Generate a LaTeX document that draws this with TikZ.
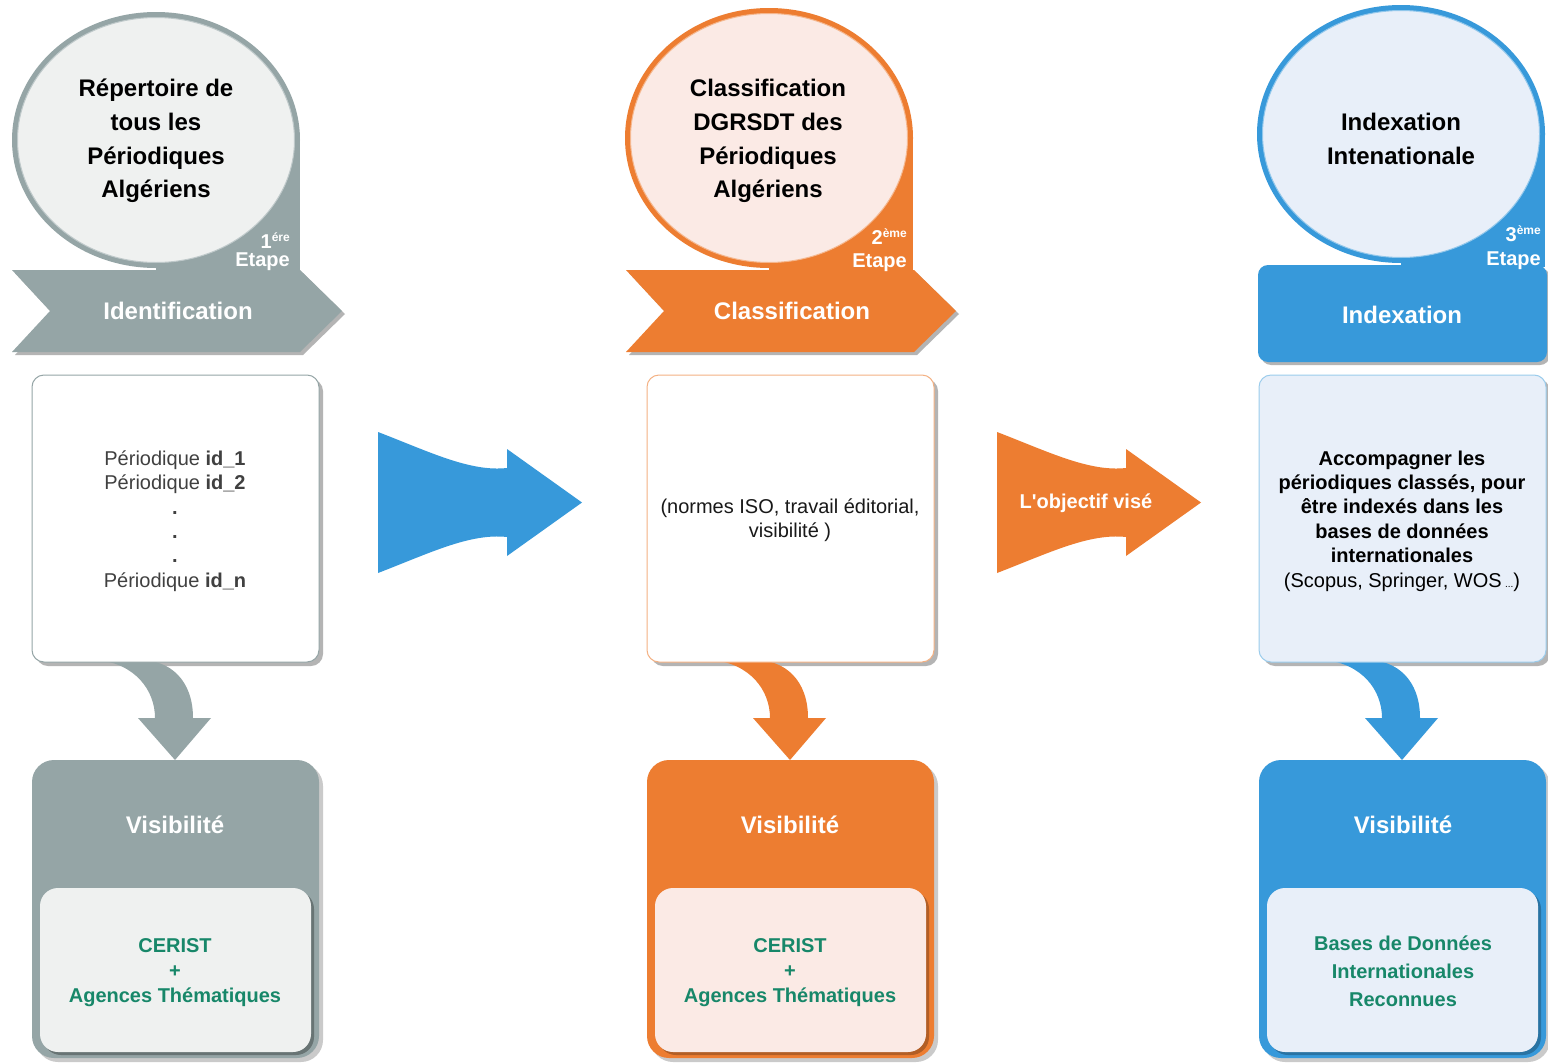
\documentclass[tikz,border=0pt]{standalone}
\usepackage{fontspec}
\setmainfont{Liberation Sans}
\definecolor{cgray}{HTML}{95A5A6}
\definecolor{cgrayl}{HTML}{EFF1F0}
\definecolor{corange}{HTML}{ED7D31}
\definecolor{corangel}{HTML}{FBEAE5}
\definecolor{cblue}{HTML}{3799DA}
\definecolor{cbluel}{HTML}{E8EFF9}
\definecolor{cgreen}{HTML}{178769}
\definecolor{shad}{HTML}{B4B4B4}
\definecolor{dtext}{HTML}{404040}
\newcommand{\stsup}[1]{\raisebox{7pt}{\fontsize{12}{12}\selectfont #1}}
\newcommand{\stagebody}[5]{%
  \fill[shad, rounded corners=12pt] (36,379) rectangle (323,666);
  \fill[#1] (98,660) .. controls (135,664) and (155,690) .. (155,718) -- (138,718) -- (175,760) -- (211,718) -- (193,718) .. controls (193,680) and (170,660) .. (140,660) -- cycle;
  \filldraw[fill=#3, draw=#4, line width=1pt, rounded corners=12pt] (32,375) rectangle (319,662);
  \fill[shad!70!white, rounded corners=22pt] (36,764) rectangle (323,1062);
  \fill[#1, rounded corners=22pt] (32,760) rectangle (319,1058);
  \fill[#5, rounded corners=18pt] (43,891) rectangle (314,1055);
  \fill[#2, rounded corners=18pt] (40,888) rectangle (311,1052);
}
\tikzset{
  circtxt/.style={font=\fontsize{24}{33.7}\selectfont\bfseries, align=center, text=black, inner sep=0pt},
  bandtxt/.style={font=\fontsize{24}{28}\selectfont\bfseries, text=white, inner sep=0pt},
  stagetxt/.style={font=\fontsize{20}{24}\selectfont\bfseries, text=white, anchor=base east, inner sep=0pt},
  bodytxt/.style={font=\fontsize{20}{24.4}\selectfont, align=center, inner sep=0pt},
  greentxt/.style={font=\fontsize{20}{25}\selectfont\bfseries, text=cgreen, align=center, inner sep=0pt},
}
\begin{document}
\begin{tikzpicture}[x=1pt,y=-1pt]
\useasboundingbox (0,0) rectangle (1548,1063);
\fill[white] (0,0) rectangle (1548,1063);

% ---------- column 1 head
\fill[cgray] (156,140) ellipse [x radius=144pt, y radius=128pt];
\fill[cgray] (156,140) rectangle (300,270);
\filldraw[fill=cgrayl, draw=cgray!60!white, line width=1pt] (156,140) ellipse [x radius=138.5pt, y radius=122.5pt];
\fill[shad] (15,273) -- (303,273) -- (345,314) -- (303,355) -- (15,355) -- (53,314) -- cycle;
\fill[cgray] (12,270) -- (300,270) -- (342,311) -- (300,352) -- (12,352) -- (50,311) -- cycle;

% ---------- column 2 head
\fill[corange] (769,138) ellipse [x radius=144pt, y radius=130pt];
\fill[corange] (769,138) rectangle (913,270);
\filldraw[fill=corangel, draw=corange!55!white, line width=1pt] (769,138) ellipse [x radius=138.5pt, y radius=124.5pt];
\fill[shad] (629,273) -- (917,273) -- (959,314) -- (917,355) -- (629,355) -- (667,314) -- cycle;
\fill[corange] (626,270) -- (914,270) -- (956,311) -- (914,352) -- (626,352) -- (664,311) -- cycle;

% ---------- column 3 head
\fill[cblue] (1401,134) ellipse [x radius=144pt, y radius=129pt];
\fill[cblue] (1401,134) rectangle (1545,267);
\filldraw[fill=cbluel, draw=cblue!55!white, line width=1pt] (1401,134) ellipse [x radius=138.5pt, y radius=123.5pt];
\fill[shad, rounded corners=10pt] (1261,268) rectangle (1550,365);
\fill[cblue, rounded corners=10pt] (1258,265) rectangle (1547,362);

% ---------- bodies
\stagebody{cgray}{cgrayl}{white}{cgray}{cgray!70!black}
\begin{scope}[shift={(615,0)}]
\stagebody{corange}{corangel}{white}{corange!60!white}{corange!75!black}
\end{scope}
\begin{scope}[shift={(1227,0)}]
\stagebody{cblue}{cbluel}{cbluel}{cblue!50!white}{cblue!75!black}
\end{scope}

% ---------- big arrows
\fill[cblue] (378,432) .. controls (430,452) and (470,472) .. (507,468) -- (507,449) -- (582,502.5) -- (507,556) -- (507,537) .. controls (470,533) and (430,553) .. (378,573) -- cycle;
\begin{scope}[shift={(619,0)}]
\fill[corange] (378,432) .. controls (430,452) and (470,472) .. (507,468) -- (507,449) -- (582,502.5) -- (507,556) -- (507,537) .. controls (470,533) and (430,553) .. (378,573) -- cycle;
\end{scope}
\node[bandtxt, font=\fontsize{20}{24}\selectfont\bfseries] (obj) at (1086,503) {L\textquotesingle objectif visé};

% ---------- texts
\node[circtxt] (h1) at (156,141) {Répertoire de\\tous les\\Périodiques\\Algériens};
\node[circtxt] (h2) at (768,141) {Classification\\DGRSDT des\\Périodiques\\Algériens};
\node[circtxt] (h3) at (1401,139) {Indexation\\Intenationale};

\node[stagetxt] (s1a) at (290,248) {1\stsup{ére}};
\node[stagetxt] (s1b) at (290,266) {Etape};
\node[stagetxt] (s2a) at (907,244) {2\stsup{ème}};
\node[stagetxt] (s2b) at (907,267) {Etape};
\node[stagetxt] (s3a) at (1541,241) {3\stsup{ème}};
\node[stagetxt] (s3b) at (1541,265) {Etape};

\node[bandtxt] (b1) at (178,311) {Identification};
\node[bandtxt] (b2) at (792,311) {Classification};
\node[bandtxt] (b3) at (1402,315) {Indexation};

\node[bodytxt, text=dtext] (t1) at (175,521) {Périodique \textbf{id\_1}\\Périodique \textbf{id\_2}\\\textbf{.}\\\textbf{.}\\\textbf{.}\\Périodique \textbf{id\_n}};
\node[bodytxt, text=black!90] (t2) at (790,520) {(normes ISO, travail éditorial,\\visibilité )};
\node[bodytxt, text=black] (t3) at (1402,521) {\textbf{Accompagner les}\\\textbf{périodiques classés, pour}\\\textbf{être indexés dans les}\\\textbf{bases de données}\\\textbf{internationales}\\(Scopus, Springer, WOS\,{\fontsize{10}{10}\selectfont...})};

\node[bandtxt] (v1) at (175,825) {Visibilité};
\node[bandtxt] (v2) at (790,825) {Visibilité};
\node[bandtxt] (v3) at (1403,825) {Visibilité};

\node[greentxt] (g1) at (175,973) {CERIST\\+\\Agences Thématiques};
\node[greentxt] (g2) at (790,973) {CERIST\\+\\Agences Thématiques};
\node[greentxt, font=\fontsize{20}{28}\selectfont\bfseries] (g3) at (1403,971) {Bases de Données\\Internationales\\Reconnues};
\end{tikzpicture}
\end{document}
